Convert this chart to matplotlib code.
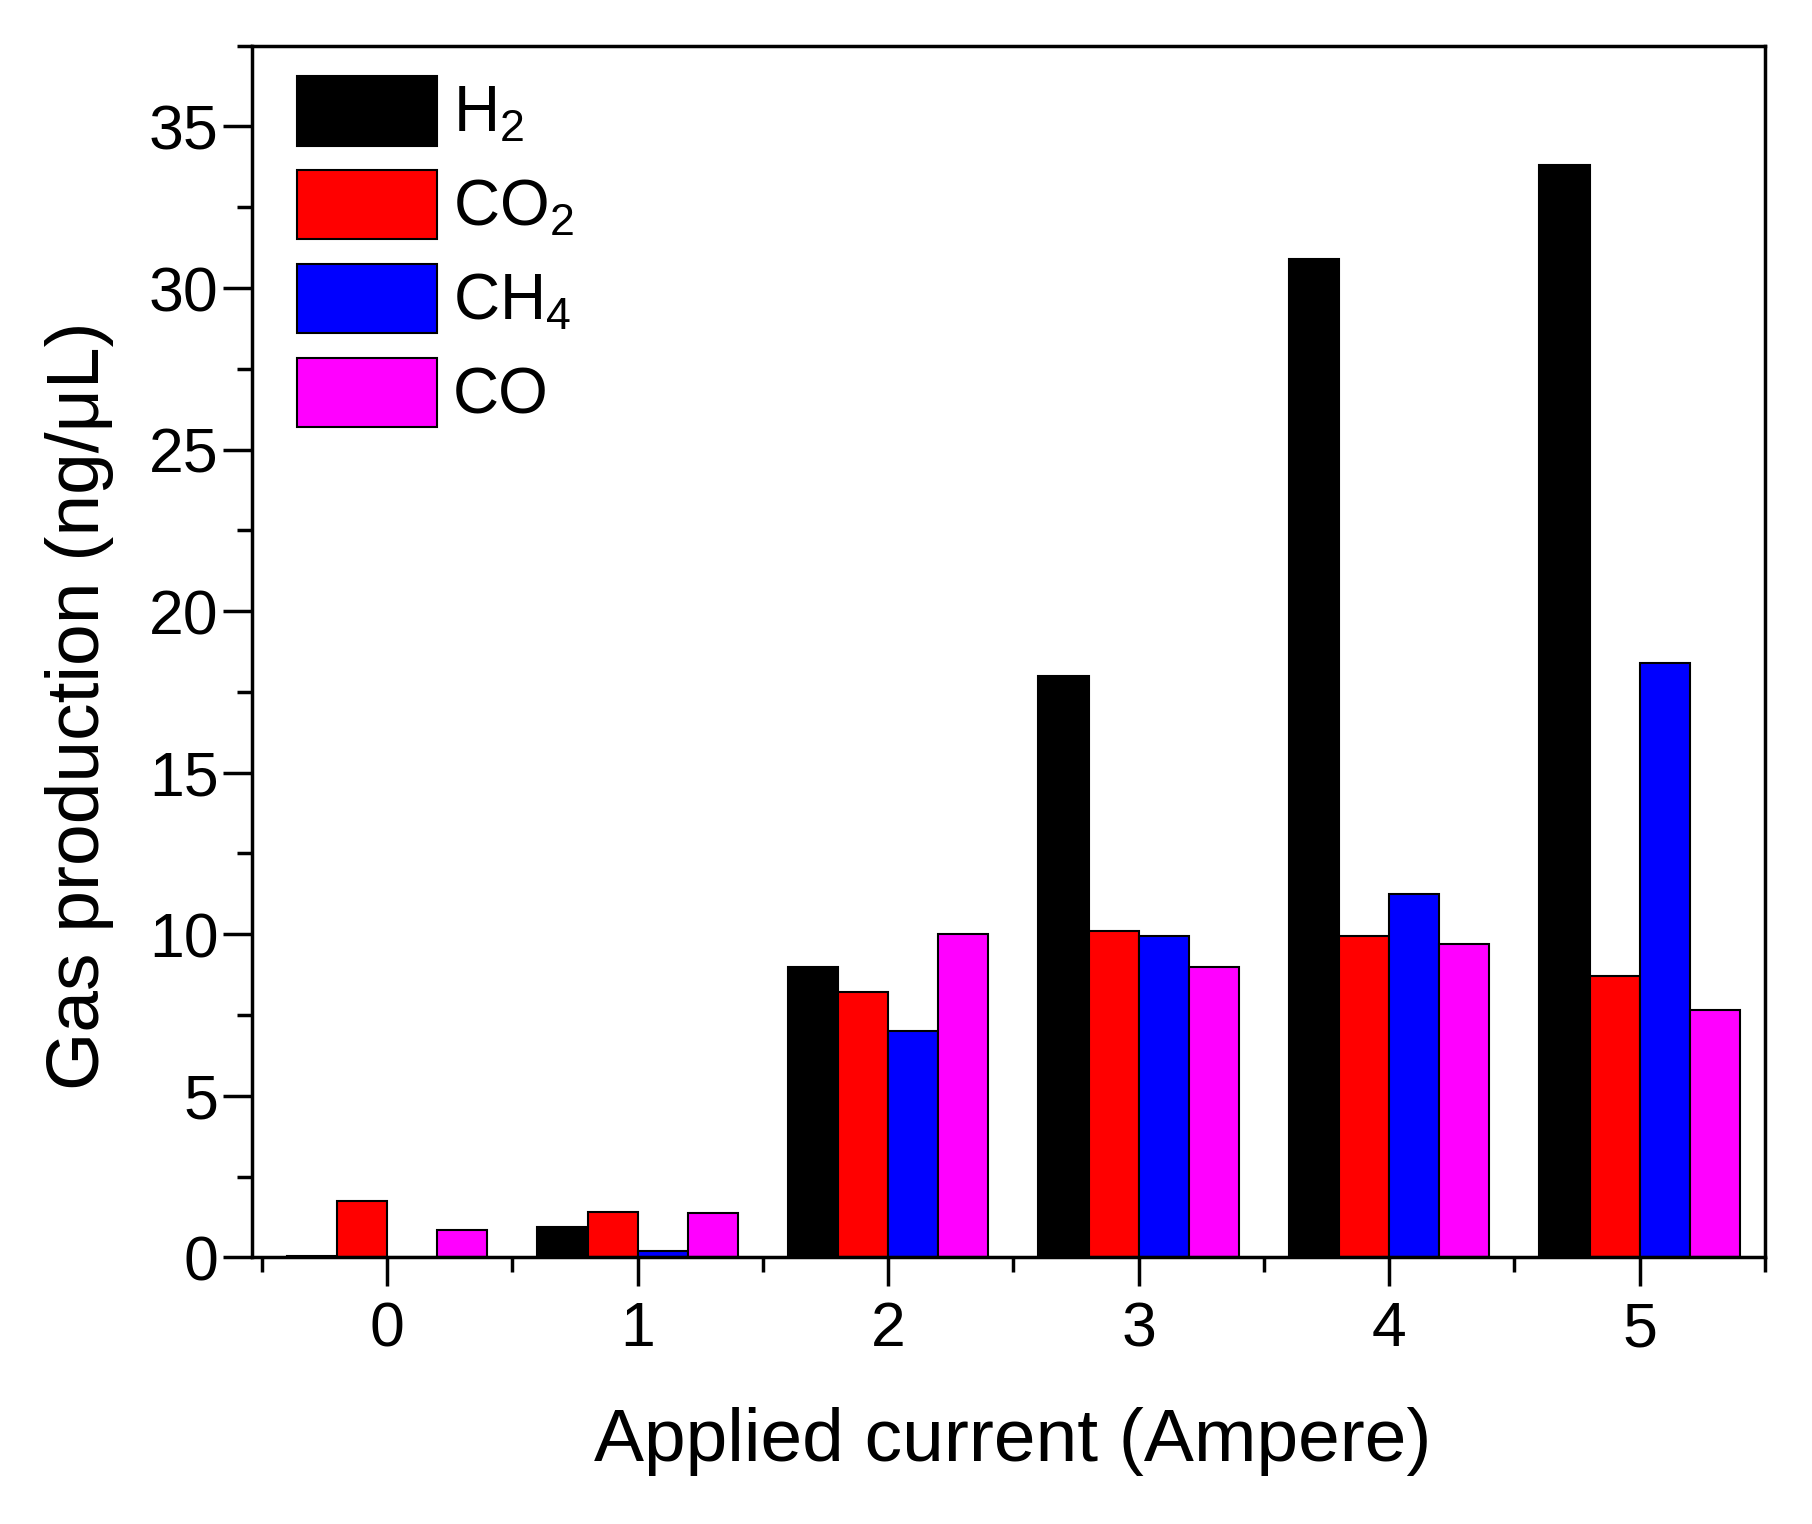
import numpy as np
import matplotlib.pyplot as plt
from matplotlib.ticker import MultipleLocator

plt.rcParams['font.family'] = ['Liberation Sans', 'DejaVu Sans']
plt.rcParams['mathtext.fontset'] = 'custom'
plt.rcParams['mathtext.rm'] = 'Liberation Sans'
plt.rcParams['mathtext.it'] = 'Liberation Sans'

# data
current = [0, 1, 2, 3, 4, 5]
h2 = [0.05, 0.93, 9.0, 18.0, 30.9, 33.8]
co2 = [1.75, 1.40, 8.2, 10.1, 9.95, 8.7]
ch4 = [0.0, 0.18, 7.0, 9.95, 11.25, 18.4]
co = [0.86, 1.36, 10.0, 9.0, 9.7, 7.65]

series = [
    (h2, 'black', 'H$_2$'),
    (co2, '#ff0000', 'CO$_2$'),
    (ch4, '#0000ff', 'CH$_4$'),
    (co, '#ff00ff', 'CO'),
]

fig = plt.figure(figsize=(18.12, 15.24), dpi=100)
ax = fig.add_axes([0.139, 0.175, 0.835, 0.795])

x = np.array(current)
w = 0.2
for i, (vals, col, lab) in enumerate(series):
    ax.bar(x + (i - 1.5) * w, vals, width=w, color=col, edgecolor='black',
           linewidth=1.5, label=lab)

ax.set_xlim(-0.54, 5.5)
ax.set_ylim(0, 37.5)
ax.set_xticks(current)
ax.xaxis.set_minor_locator(MultipleLocator(0.5))
ax.yaxis.set_major_locator(MultipleLocator(5))
ax.yaxis.set_minor_locator(MultipleLocator(2.5))

ax.tick_params(axis='both', which='major', direction='out', length=21, width=2.5,
               labelsize=45)
ax.tick_params(axis='x', which='major', pad=10)
ax.tick_params(axis='y', which='major', pad=3)
ax.tick_params(axis='both', which='minor', direction='out', length=11, width=2.5)
ax.tick_params(top=False, right=False, which='both')
for s in ax.spines.values():
    s.set_linewidth(2.5)

ax.set_xlabel('Applied current (Ampere)', fontsize=54, labelpad=34, x=0.503)
ax.set_ylabel('Gas production (ng/\u03bcL)', fontsize=54, labelpad=25, y=0.455)

ax.legend(loc='upper left', bbox_to_anchor=(0, 1.012), fontsize=46, frameon=False,
          handlelength=2.2, handleheight=1.3, labelspacing=0.38, handletextpad=0.25,
          borderaxespad=0.35, borderpad=0.35)

plt.savefig('out.png', dpi=100)
